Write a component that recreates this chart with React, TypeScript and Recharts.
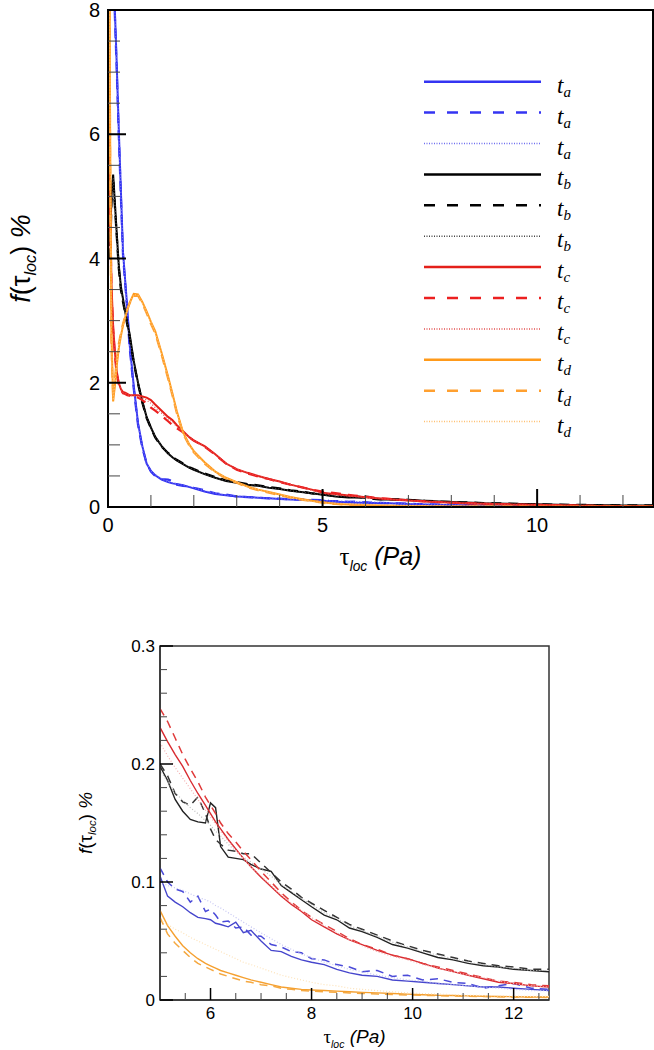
import { Legend, Line, LineChart, ReferenceArea, XAxis, YAxis } from "recharts";

// shear stress grid (Pa): fine near 0 for the top panel, the tail is shared with the zoom panel
const X_HEAD = [
  0.02, 0.05, 0.08, 0.12, 0.16, 0.2, 0.25, 0.3, 0.35, 0.4, 0.45, 0.5,
  0.6, 0.7, 0.8, 0.9, 1.0, 1.1, 1.25, 1.4, 1.5, 1.6, 1.75, 1.9,
  2.0, 2.25, 2.5, 2.75, 3.0, 3.25, 3.5, 3.75, 4.0, 4.25, 4.5, 4.75,
];
const X_TAIL = [
  5.0, 5.15, 5.3, 5.45, 5.6, 5.75, 5.9, 6.0, 6.1, 6.2, 6.35, 6.5,
  6.65, 6.8, 7.0, 7.2, 7.4, 7.6, 7.8, 8.0, 8.25, 8.5, 8.75, 9.0,
  9.3, 9.6, 9.9, 10.2, 10.5, 10.8, 11.1, 11.4, 11.7, 12.0, 12.35, 12.7,
];
const TAU = [...X_HEAD, ...X_TAIL];

// f(tau) % — t_a (blue)
const TA_SOLID = [
  14, 12, 10.5, 9, 8, 7.2, 6.1, 5.1, 4.1, 3.65, 3.2, 2.65, 1.95, 1.35, 0.98, 0.7, 0.58, 0.51,
  0.44, 0.4, 0.38, 0.37, 0.35, 0.32, 0.3, 0.25, 0.21, 0.19, 0.17, 0.16, 0.15, 0.14, 0.13, 0.12, 0.115, 0.11,
  0.105, 0.088, 0.083, 0.079, 0.074, 0.07, 0.069, 0.068, 0.065, 0.064, 0.062, 0.066,
  0.057, 0.059, 0.05, 0.042, 0.041, 0.037, 0.034, 0.032, 0.03, 0.026, 0.023, 0.021,
  0.02, 0.017, 0.016, 0.015, 0.014, 0.013, 0.012, 0.011, 0.011, 0.01, 0.009, 0.008,
];
const TA_DASHED = [
  14, 12, 10.4, 8.9, 7.9, 7.1, 6.0, 5.0, 4.05, 3.6, 3.15, 2.6, 1.9, 1.32, 0.95, 0.7, 0.57, 0.5,
  0.45, 0.44, 0.42, 0.36, 0.34, 0.33, 0.31, 0.27, 0.22, 0.2, 0.17, 0.16, 0.15, 0.14, 0.135, 0.125, 0.12, 0.115,
  0.112, 0.1, 0.094, 0.092, 0.083, 0.088, 0.075, 0.077, 0.072, 0.066, 0.067, 0.061,
  0.062, 0.055, 0.054, 0.047, 0.045, 0.041, 0.04, 0.035, 0.034, 0.03, 0.028, 0.024,
  0.025, 0.02, 0.021, 0.017, 0.018, 0.015, 0.014, 0.01, 0.012, 0.014, 0.01, 0.009,
];
const TA_DOTTED = [
  14, 12, 10.5, 9, 8, 7.15, 6.05, 5.05, 4.1, 3.62, 3.18, 2.63, 1.93, 1.34, 0.97, 0.71, 0.58, 0.52,
  0.45, 0.41, 0.39, 0.37, 0.35, 0.33, 0.31, 0.26, 0.22, 0.19, 0.18, 0.16, 0.15, 0.14, 0.13, 0.125, 0.12, 0.11,
  0.1, 0.097, 0.095, 0.093, 0.09, 0.087, 0.085, 0.083, 0.08, 0.078, 0.074, 0.07,
  0.066, 0.062, 0.057, 0.052, 0.047, 0.043, 0.039, 0.036, 0.032, 0.029, 0.026, 0.024,
  0.021, 0.019, 0.017, 0.016, 0.014, 0.013, 0.012, 0.011, 0.01, 0.009, 0.008, 0.008,
];

// t_b (black)
const TB_SOLID = [
  null, 4.2, 5.0, 5.35, 4.9, 4.45, 3.9, 3.55, 3.35, 3.15, 2.95, 2.8, 2.35, 2.0, 1.7, 1.45, 1.28, 1.13,
  0.98, 0.86, 0.8, 0.75, 0.69, 0.63, 0.6, 0.53, 0.47, 0.42, 0.39, 0.36, 0.34, 0.31, 0.29, 0.26, 0.24, 0.22,
  0.198, 0.186, 0.17, 0.16, 0.153, 0.151, 0.15, 0.167, 0.163, 0.13, 0.121, 0.12,
  0.119, 0.115, 0.111, 0.109, 0.097, 0.091, 0.085, 0.079, 0.072, 0.068, 0.061, 0.058,
  0.053, 0.047, 0.044, 0.04, 0.036, 0.034, 0.031, 0.029, 0.028, 0.026, 0.025, 0.024,
];
const TB_DASHED = [
  null, 4.0, 4.9, 5.3, 4.85, 4.4, 3.85, 3.5, 3.3, 3.12, 2.93, 2.75, 2.32, 1.98, 1.68, 1.43, 1.27, 1.12,
  0.97, 0.87, 0.81, 0.76, 0.7, 0.64, 0.61, 0.54, 0.48, 0.43, 0.4, 0.37, 0.35, 0.32, 0.3, 0.27, 0.25, 0.22,
  0.2, 0.19, 0.175, 0.168, 0.165, 0.172, 0.158, 0.145, 0.136, 0.132, 0.127, 0.126,
  0.124, 0.124, 0.116, 0.108, 0.1, 0.094, 0.087, 0.082, 0.076, 0.07, 0.064, 0.06,
  0.055, 0.05, 0.046, 0.042, 0.039, 0.036, 0.033, 0.031, 0.029, 0.028, 0.026, 0.026,
];
const TB_DOTTED = [
  null, 4.1, 4.95, 5.3, 4.88, 4.42, 3.88, 3.52, 3.33, 3.14, 2.94, 2.78, 2.34, 1.99, 1.69, 1.44, 1.28, 1.13,
  0.98, 0.86, 0.8, 0.75, 0.69, 0.63, 0.6, 0.53, 0.47, 0.42, 0.39, 0.36, 0.34, 0.31, 0.29, 0.26, 0.24, 0.22,
  0.195, 0.185, 0.176, 0.169, 0.163, 0.158, 0.152, 0.148, 0.143, 0.139, 0.132, 0.126,
  0.121, 0.117, 0.111, 0.105, 0.098, 0.092, 0.086, 0.081, 0.074, 0.069, 0.063, 0.059,
  0.054, 0.049, 0.045, 0.041, 0.038, 0.035, 0.032, 0.03, 0.028, 0.027, 0.025, 0.025,
];

// t_c (red)
const TC_SOLID = [
  7, 5.0, 3.6, 2.9, 2.5, 2.2, 2.0, 1.9, 1.85, 1.84, 1.82, 1.8, 1.8, 1.8, 1.78, 1.76, 1.72, 1.65,
  1.55, 1.45, 1.4, 1.32, 1.22, 1.12, 1.07, 0.98, 0.85, 0.7, 0.61, 0.55, 0.5, 0.45, 0.41, 0.36, 0.32, 0.28,
  0.231, 0.219, 0.208, 0.198, 0.186, 0.175, 0.165, 0.158, 0.151, 0.145, 0.136, 0.128,
  0.12, 0.113, 0.104, 0.096, 0.088, 0.081, 0.075, 0.068, 0.062, 0.056, 0.051, 0.047,
  0.042, 0.038, 0.035, 0.031, 0.027, 0.024, 0.021, 0.018, 0.015, 0.014, 0.012, 0.011,
];
const TC_DASHED = [
  6.5, 4.8, 3.5, 2.85, 2.45, 2.15, 1.98, 1.88, 1.83, 1.82, 1.8, 1.79, 1.78, 1.76, 1.72, 1.67, 1.6, 1.55,
  1.47, 1.38, 1.32, 1.27, 1.2, 1.12, 1.07, 0.97, 0.84, 0.7, 0.6, 0.54, 0.49, 0.45, 0.4, 0.36, 0.32, 0.28,
  0.247, 0.236, 0.222, 0.208, 0.196, 0.185, 0.172, 0.165, 0.158, 0.15, 0.141, 0.134,
  0.126, 0.119, 0.109, 0.1, 0.091, 0.083, 0.076, 0.07, 0.064, 0.058, 0.052, 0.047,
  0.043, 0.038, 0.035, 0.031, 0.028, 0.025, 0.022, 0.019, 0.016, 0.015, 0.013, 0.012,
];
const TC_DOTTED = [
  6.8, 4.9, 3.55, 2.88, 2.48, 2.18, 1.99, 1.89, 1.84, 1.83, 1.81, 1.8, 1.79, 1.78, 1.76, 1.72, 1.67, 1.6,
  1.51, 1.42, 1.37, 1.3, 1.21, 1.12, 1.07, 0.97, 0.85, 0.7, 0.61, 0.55, 0.5, 0.45, 0.41, 0.36, 0.32, 0.27,
  0.218, 0.207, 0.197, 0.188, 0.179, 0.17, 0.161, 0.155, 0.149, 0.143, 0.135, 0.127,
  0.12, 0.113, 0.105, 0.097, 0.089, 0.082, 0.076, 0.07, 0.063, 0.057, 0.051, 0.046,
  0.041, 0.037, 0.034, 0.03, 0.027, 0.024, 0.021, 0.019, 0.016, 0.014, 0.012, 0.011,
];

// t_d (orange)
const TD_SOLID = [
  12, 6.0, 2.8, 1.7, 1.95, 2.25, 2.55, 2.75, 2.92, 3.05, 3.17, 3.28, 3.43, 3.42, 3.3, 3.15, 2.98, 2.83,
  2.48, 2.1, 1.83, 1.55, 1.2, 1.0, 0.9, 0.72, 0.57, 0.47, 0.4, 0.33, 0.28, 0.24, 0.2, 0.16, 0.13, 0.1,
  0.076, 0.063, 0.054, 0.046, 0.04, 0.035, 0.031, 0.029, 0.027, 0.025, 0.023, 0.021,
  0.019, 0.017, 0.015, 0.013, 0.011, 0.01, 0.009, 0.0085, 0.008, 0.0075, 0.007, 0.0065,
  0.006, 0.0055, 0.005, 0.0045, 0.004, 0.0038, 0.0035, 0.0032, 0.003, 0.0028, 0.0026, 0.0025,
];
const TD_DASHED = [
  11, 5.5, 2.6, 1.75, 2.05, 2.35, 2.62, 2.8, 2.95, 3.07, 3.18, 3.27, 3.4, 3.4, 3.28, 3.12, 2.95, 2.8,
  2.45, 2.07, 1.8, 1.52, 1.18, 0.98, 0.88, 0.7, 0.56, 0.46, 0.39, 0.32, 0.27, 0.23, 0.19, 0.15, 0.12, 0.095,
  0.07, 0.056, 0.048, 0.042, 0.036, 0.031, 0.028, 0.026, 0.024, 0.022, 0.02, 0.018,
  0.016, 0.015, 0.013, 0.012, 0.01, 0.009, 0.008, 0.0075, 0.007, 0.0065, 0.006, 0.0055,
  0.005, 0.0047, 0.0043, 0.004, 0.0037, 0.0034, 0.0031, 0.0029, 0.0027, 0.0025, 0.0023, 0.0022,
];
const TD_DOTTED = [
  11.5, 5.8, 2.7, 1.72, 2.0, 2.3, 2.58, 2.77, 2.93, 3.06, 3.17, 3.27, 3.42, 3.41, 3.29, 3.14, 2.97, 2.82,
  2.47, 2.09, 1.82, 1.54, 1.19, 0.99, 0.89, 0.71, 0.57, 0.47, 0.4, 0.33, 0.28, 0.24, 0.2, 0.16, 0.12, 0.09,
  0.068, 0.064, 0.06, 0.057, 0.053, 0.05, 0.047, 0.045, 0.043, 0.041, 0.038, 0.035,
  0.032, 0.03, 0.027, 0.024, 0.021, 0.019, 0.017, 0.015, 0.013, 0.012, 0.01, 0.009,
  0.008, 0.007, 0.006, 0.0055, 0.005, 0.0045, 0.004, 0.0038, 0.0035, 0.0033, 0.003, 0.003,
];

const TOP_X_TICKS = [0, 1, 2, 3, 4, 5, 6, 7, 8, 9, 10, 11, 12];
const TOP_Y_TICKS = [0, 0.5, 1, 1.5, 2, 2.5, 3, 3.5, 4, 4.5, 5, 5.5, 6, 6.5, 7, 7.5, 8];
const ZOOM_X_TICKS = [5, 5.5, 6, 6.5, 7, 7.5, 8, 8.5, 9, 9.5, 10, 10.5, 11, 11.5, 12, 12.5];
const ZOOM_Y_TICKS = [0, 0.02, 0.04, 0.06, 0.08, 0.1, 0.12, 0.14, 0.16, 0.18, 0.2, 0.22, 0.24, 0.26, 0.28, 0.3];

type Kind = "solid" | "dashed" | "dotted";
const SERIES: { key: string; sub: string; kind: Kind; values: (number | null)[]; top: string; zoom: string }[] = [
  { key: "taSolid", sub: "a", kind: "solid", values: TA_SOLID, top: "#3434f2", zoom: "#4545cc" },
  { key: "taDashed", sub: "a", kind: "dashed", values: TA_DASHED, top: "#3434f2", zoom: "#4a4ad8" },
  { key: "taDotted", sub: "a", kind: "dotted", values: TA_DOTTED, top: "#7070f0", zoom: "#c4c4f2" },
  { key: "tbSolid", sub: "b", kind: "solid", values: TB_SOLID, top: "#000000", zoom: "#222222" },
  { key: "tbDashed", sub: "b", kind: "dashed", values: TB_DASHED, top: "#000000", zoom: "#333333" },
  { key: "tbDotted", sub: "b", kind: "dotted", values: TB_DOTTED, top: "#444444", zoom: "#bbbbbb" },
  { key: "tcSolid", sub: "c", kind: "solid", values: TC_SOLID, top: "#e4201a", zoom: "#d82a30" },
  { key: "tcDashed", sub: "c", kind: "dashed", values: TC_DASHED, top: "#ec2020", zoom: "#e03a3a" },
  { key: "tcDotted", sub: "c", kind: "dotted", values: TC_DOTTED, top: "#e25050", zoom: "#f4b0b0" },
  { key: "tdSolid", sub: "d", kind: "solid", values: TD_SOLID, top: "#ff9a1a", zoom: "#f5a030" },
  { key: "tdDashed", sub: "d", kind: "dashed", values: TD_DASHED, top: "#ffa030", zoom: "#f5a840" },
  { key: "tdDotted", sub: "d", kind: "dotted", values: TD_DOTTED, top: "#ffc070", zoom: "#fde2b8" },
];

const rows = TAU.map((x, i) => {
  const row: Record<string, number | null> = { x };
  for (const s of SERIES) row[s.key] = s.values[i];
  return row;
});
const zoomRows = rows.filter((r) => (r.x as number) >= 5);

const FONT = "'Liberation Sans', Arial, sans-serif";
const SERIF = "'Liberation Serif', 'Times New Roman', serif";

const isMultiple = (v: number, step: number) => Math.abs(v / step - Math.round(v / step)) < 1e-6;

function xTick(major: number, majorLen: number, minorLen: number, fontSize: number, dy: number, w: number) {
  return (props: any) => {
    const { x, y, payload } = props;
    const v = payload.value as number;
    const isMajor = isMultiple(v, major);
    return (
      <g>
        <line x1={x} x2={x} y1={y} y2={y - (isMajor ? majorLen : minorLen)} stroke={isMajor ? "#000" : "#444"} strokeWidth={isMajor ? w : 1} />
        {isMajor && (
          <text x={x} y={y + dy} textAnchor="middle" fontSize={fontSize} fontFamily={FONT} fill="#000">
            {v}
          </text>
        )}
      </g>
    );
  };
}

function yTick(major: number, majorLen: number, minorLen: number, fontSize: number, gap: number, w: number) {
  return (props: any) => {
    const { x, y, payload } = props;
    const v = payload.value as number;
    const isMajor = isMultiple(v, major);
    return (
      <g>
        <line x1={x} x2={x + (isMajor ? majorLen : minorLen)} y1={y} y2={y} stroke={isMajor ? "#000" : "#444"} strokeWidth={isMajor ? w : 1} />
        {isMajor && (
          <text x={x - gap} y={y} dy="0.36em" textAnchor="end" fontSize={fontSize} fontFamily={FONT} fill="#000">
            {v}
          </text>
        )}
      </g>
    );
  };
}

function YTitle({ viewBox, cxOff, size }: any) {
  const cx = (viewBox?.x ?? 0) + cxOff;
  const cy = (viewBox?.y ?? 0) + (viewBox?.height ?? 0) / 2;
  return (
    <text x={cx} y={cy} transform={`rotate(-90 ${cx} ${cy})`} textAnchor="middle" fontSize={size} fontFamily={FONT} fill="#000">
      <tspan fontStyle="italic">f</tspan>
      <tspan>(τ</tspan>
      <tspan fontSize={size * 0.6} dy={size * 0.22} fontStyle="italic">loc</tspan>
      <tspan dy={-size * 0.22}>)</tspan>
      <tspan fontStyle="italic"> %</tspan>
    </text>
  );
}

function XTitle({ viewBox, dy, size }: any) {
  const cx = (viewBox?.x ?? 0) + (viewBox?.width ?? 0) / 2;
  const cy = (viewBox?.y ?? 0) + dy;
  return (
    <text x={cx} y={cy} textAnchor="middle" fontSize={size} fontFamily={FONT} fill="#000">
      <tspan fontFamily={SERIF}>τ</tspan>
      <tspan fontSize={size * 0.55} dy={size * 0.25} fontStyle="italic">loc</tspan>
      <tspan dy={-size * 0.25} fontStyle="italic"> (Pa)</tspan>
    </text>
  );
}

function dashFor(kind: Kind, zoom: boolean) {
  if (kind === "dashed") return zoom ? "8 6" : "10 7";
  if (kind === "dotted") return "1 2";
  return undefined;
}

function widthFor(kind: Kind, zoom: boolean) {
  if (kind === "dotted") return zoom ? 1.2 : 1.3;
  if (kind === "dashed") return zoom ? 1.5 : 2.2;
  return zoom ? 1.4 : 2;
}

function LegendBox() {
  return (
    <svg width={190} height={372}>
      {SERIES.map((s, i) => {
        const y = 11.7 + i * 30.9;
        return (
          <g key={s.key}>
            <line
              x1={8}
              x2={125}
              y1={y}
              y2={y}
              stroke={s.top}
              strokeWidth={s.kind === "dotted" ? 1.5 : 2.5}
              strokeDasharray={s.kind === "dashed" ? "11 12" : s.kind === "dotted" ? "1 1.5" : undefined}
            />
            <text x={141} y={y + 11} fontFamily={SERIF} fontStyle="italic" fontSize={23} fill="#000">
              t<tspan fontSize={15} dy={4}>{s.sub}</tspan>
            </text>
          </g>
        );
      })}
    </svg>
  );
}

export default function App() {
  return (
    <div style={{ position: "absolute", left: 0, top: 0, width: 654, height: 1050, background: "#fff", fontFamily: FONT }}>
      <div style={{ position: "absolute", left: 0, top: 0 }}>
        <LineChart width={654} height={590} data={rows} margin={{ top: 10, right: 1, bottom: 0, left: 0 }}>
          <XAxis
            dataKey="x"
            type="number"
            domain={[0, 12.7]}
            allowDataOverflow
            ticks={TOP_X_TICKS}
            interval={0}
            tickSize={0}
            tickMargin={0}
            tickLine={false}
            height={83}
            axisLine={{ stroke: "#000", strokeWidth: 2 }}
            tick={xTick(5, 18, 12, 20, 25, 2)}
            label={{ content: (p: any) => <XTitle viewBox={p.viewBox} dy={58} size={25} /> }}
          />
          <YAxis
            type="number"
            domain={[0, 8]}
            allowDataOverflow
            ticks={TOP_Y_TICKS}
            interval={0}
            tickSize={0}
            tickMargin={0}
            tickLine={false}
            width={108}
            axisLine={{ stroke: "#000", strokeWidth: 2 }}
            tick={yTick(2, 18, 12, 20, 8, 2)}
            label={{ content: (p: any) => <YTitle viewBox={p.viewBox} cxOff={30} size={27} /> }}
          />
          <ReferenceArea x1={0} x2={12.7} y1={0} y2={8} fill="none" stroke="#000" strokeWidth={2} ifOverflow="visible" />
          {SERIES.map((s) => (
            <Line
              key={s.key}
              dataKey={s.key}
              type="linear"
              stroke={s.top}
              strokeWidth={widthFor(s.kind, false)}
              strokeDasharray={dashFor(s.kind, false)}
              dot={false}
              activeDot={false}
              isAnimationActive={false}
            />
          ))}
          <Legend
            layout="horizontal"
            verticalAlign="middle"
            align="center"
            wrapperStyle={{ left: 416, top: 70, width: 190, height: 372 }}
            content={() => <LegendBox />}
          />
        </LineChart>
      </div>
      <div style={{ position: "absolute", left: 0, top: 600 }}>
        <LineChart width={654} height={450} data={zoomRows} margin={{ top: 46, right: 105, bottom: 0, left: 0 }}>
          <XAxis
            dataKey="x"
            type="number"
            domain={[5, 12.7]}
            allowDataOverflow
            ticks={ZOOM_X_TICKS}
            interval={0}
            tickSize={0}
            tickMargin={0}
            tickLine={false}
            height={50}
            axisLine={{ stroke: "#333", strokeWidth: 1.5 }}
            tick={xTick(2, 12, 7, 17, 19, 1.5)}
            label={{ content: (p: any) => <XTitle viewBox={p.viewBox} dy={43} size={19} /> }}
          />
          <YAxis
            type="number"
            domain={[0, 0.3]}
            allowDataOverflow
            ticks={ZOOM_Y_TICKS}
            interval={0}
            tickSize={0}
            tickMargin={0}
            tickLine={false}
            width={160}
            axisLine={{ stroke: "#333", strokeWidth: 1.5 }}
            tick={yTick(0.1, 13, 7, 17, 5, 1.5)}
            label={{ content: (p: any) => <YTitle viewBox={p.viewBox} cxOff={92} size={19} /> }}
          />
          <ReferenceArea x1={5} x2={12.7} y1={0} y2={0.3} fill="none" stroke="#333" strokeWidth={1.5} ifOverflow="visible" />
          {SERIES.map((s) => (
            <Line
              key={s.key}
              dataKey={s.key}
              type="linear"
              stroke={s.zoom}
              strokeWidth={widthFor(s.kind, true)}
              strokeDasharray={dashFor(s.kind, true)}
              dot={false}
              activeDot={false}
              isAnimationActive={false}
            />
          ))}
        </LineChart>
      </div>
    </div>
  );
}
